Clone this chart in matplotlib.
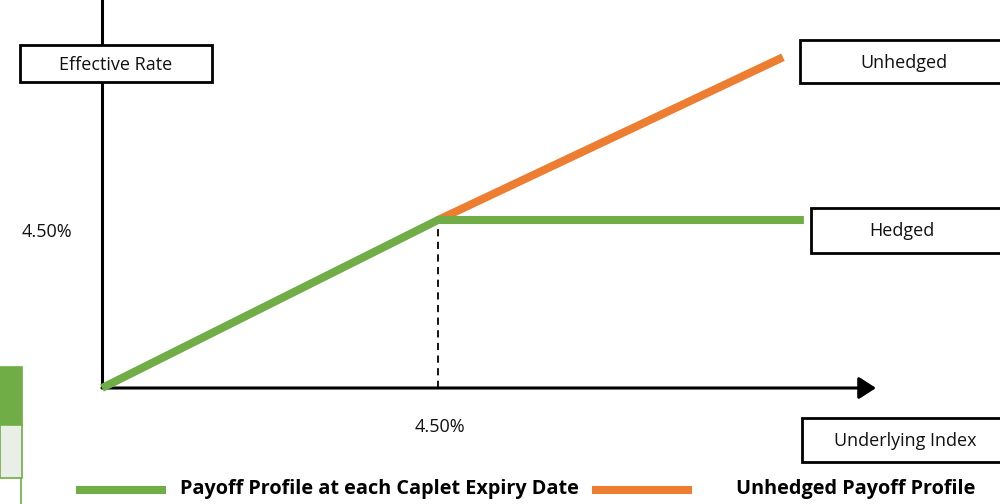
import matplotlib
matplotlib.use("Agg")
import matplotlib.pyplot as plt
from matplotlib.patches import Rectangle, FancyArrowPatch

plt.rcParams['font.family'] = ['Open Sans', 'DejaVu Sans']

# Data (schematic payoff, in % units)
strike = 4.5
underlying_hedged = [0.0, 4.5, 9.4]
hedged_rate = [0.0, 4.5, 4.5]
underlying_unhedged = [4.5, 9.12]
unhedged_rate = [4.5, 8.86]
strike_label = "4.50%"
legend_labels = ["Payoff Profile at each Caplet Expiry Date", "Unhedged Payoff Profile"]
box_labels = ["Effective Rate", "Unhedged", "Hedged", "Underlying Index"]

GREEN = "#70AD47"
ORANGE = "#ED7D31"

W, H = 1000, 504
fig = plt.figure(figsize=(W / 100, H / 100), dpi=100)
ax = fig.add_axes([0, 0, 1, 1])
sx = (438 - 102) / 4.5
sy = (388 - 220) / 4.5
ax.set_xlim(-102 / sx, (W - 102) / sx)
ax.set_ylim(-(H - 388) / sy, 388 / sy)
ax.axis("off")

def px(x, y):
    return ((x - 102) / sx, (388 - y) / sy)

# axes lines
ax.plot([0, 0], [px(0, 388)[1], px(0, 0)[1] + 1], color="black", lw=2.2, zorder=2, solid_capstyle="butt")
arr = FancyArrowPatch(px(102, 388), px(876, 388), arrowstyle="-|>,head_length=6.5,head_width=4.2",
                      mutation_scale=1.6, color="black", lw=2.2, zorder=2, shrinkA=0, shrinkB=0)
ax.add_patch(arr)

# dashed strike line
ax.plot([strike, strike], [0, strike], color="black", lw=1.3, ls=(0, (4, 3)), zorder=2)

# payoff lines
ax.plot(underlying_hedged, hedged_rate, color=GREEN, lw=5.8, solid_capstyle="butt", zorder=4)
ax.plot(underlying_unhedged, unhedged_rate, color=ORANGE, lw=5.8, solid_capstyle="butt", zorder=3)

FS = 13

def box(x0, y0, x1, y1, text, tx):
    r = Rectangle((x0 / W, 1 - y1 / H), (x1 - x0) / W, (y1 - y0) / H, transform=fig.transFigure,
                  facecolor="white", edgecolor="black", lw=2.0, zorder=5)
    fig.add_artist(r)
    fig.text(tx / W, 1 - ((y0 + y1) / 2 + 1) / H, text, ha="center", va="center",
             fontsize=FS, color="#111111", zorder=6)

box(20, 45, 212, 82, box_labels[0], 116)
box(800, 40, 1012, 83, box_labels[1], 904)
box(811, 208, 1012, 253, box_labels[2], 902)
box(802, 418, 1012, 462, box_labels[3], 905)

# strike labels
fig.text(47 / W, 1 - 232 / H, strike_label, ha="center", va="center", fontsize=FS, color="#111111")
fig.text(440 / W, 1 - 427 / H, strike_label, ha="center", va="center", fontsize=FS, color="#111111")

# left table fragment
fig.add_artist(Rectangle((0, 1 - 425 / H), 22 / W, 58 / H, transform=fig.transFigure,
                         facecolor=GREEN, edgecolor=GREEN, lw=1.2))
fig.add_artist(Rectangle((0, 1 - 478 / H), 22 / W, 53 / H, transform=fig.transFigure,
                         facecolor="#E9EFE6", edgecolor=GREEN, lw=1.2))
fig.add_artist(plt.Line2D([21 / W, 21 / W], [0, 1 - 478 / H], transform=fig.transFigure, color=GREEN, lw=1.2))

# legend
fig.add_artist(plt.Line2D([80 / W, 162 / W], [1 - 490 / H] * 2, transform=fig.transFigure, color=GREEN, lw=5.8))
fig.text(180 / W, 1 - 489 / H, legend_labels[0], ha="left", va="center", fontsize=14.3, fontweight="bold")
fig.add_artist(plt.Line2D([596 / W, 688 / W], [1 - 490 / H] * 2, transform=fig.transFigure, color=ORANGE, lw=5.8))
fig.text(736 / W, 1 - 489 / H, legend_labels[1], ha="left", va="center", fontsize=14.3, fontweight="bold")

fig.savefig("out.png", dpi=100)
